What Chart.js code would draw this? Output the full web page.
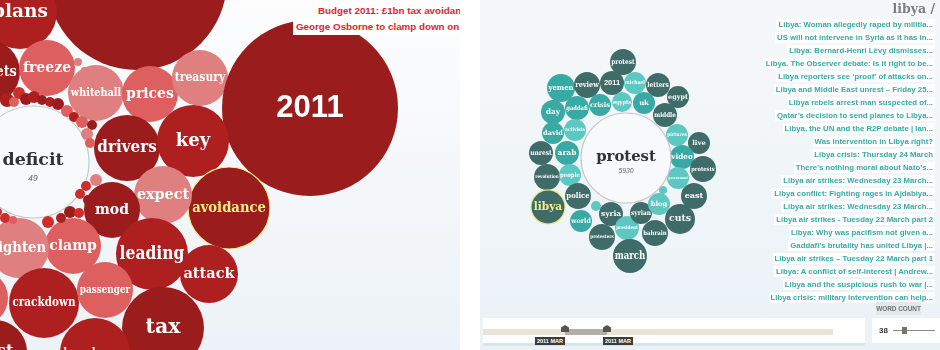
<!DOCTYPE html>
<html>
<head>
<meta charset="utf-8">
<script src="https://cdn.jsdelivr.net/npm/chart.js@4/dist/chart.umd.min.js"></script>
<style>
  body { margin: 0; width: 940px; height: 350px; position: relative; overflow: hidden; background: #fff; font-family: "Liberation Sans", Arial, sans-serif; }
  .panel { position: absolute; top: 0; height: 350px; overflow: hidden; }
  #left { left: 0; width: 460px; background: linear-gradient(#fdfdfe, #ecf2f7); }
  #right { left: 480px; width: 460px; background: linear-gradient(#f5f8fa, #ebf2f7); }
  canvas { position: absolute; left: 0; top: 0; }
  .head { position: absolute; white-space: nowrap; background: #fff; color: #e1262b; font-weight: bold; font-size: 9.8px; padding: 2px 3px; line-height: 12px; }
  #titles { position: absolute; right: 5px; top: 15px; text-align: right; }
  #titles div { height: 13px; line-height: 13px; }
  #titles span { background: #fff; color: #38aaa5; font-weight: bold; font-size: 7.8px; padding: 1px 2px; white-space: nowrap; }
  #topic { position: absolute; right: 5px; top: 1px; font-family: "DejaVu Serif", serif; font-weight: bold; font-size: 12.5px; color: #7c7f82; }
  #wclabel { position: absolute; left: 396px; top: 302px; width: 45px; height: 13px; background: #e3e8eb; color: #6e7378; font-size: 6.4px; font-weight: bold; text-align: center; line-height: 13px; white-space: nowrap; }
  #wcbox { position: absolute; left: 392px; top: 318px; width: 68px; height: 25px; background: #fff; }
  #timeline { position: absolute; left: 3px; top: 318px; width: 382px; height: 25px; background: #fff; border-bottom: 3px solid #d6e6ef; }
  .tag { position: absolute; top: 19px; background: #3c3c37; color: #fff; font-size: 5.5px; font-weight: bold; padding: 1px 2px; line-height: 6px; }
  .knob { position: absolute; top: 7px; width: 8px; height: 7px; background: #55554f; clip-path: polygon(50% 0, 100% 35%, 100% 100%, 0 100%, 0 35%); }
</style>
</head>
<body>
<div class="panel" id="left">
  <canvas id="leftChart" width="460" height="350"></canvas>
  <div class="head" style="left:315px; top:3px;">Budget 2011: £1bn tax avoidance measures</div>
  <div class="head" style="left:293px; top:19px;">George Osborne to clamp down on tax avoidance</div>
</div>
<div class="panel" id="right">
  <canvas id="rightChart" width="460" height="350"></canvas>
  <div id="topic">libya /</div>
  <div id="titles"></div>
  <div id="wclabel">WORD COUNT</div>
  <div id="wcbox">
    <span style="position:absolute; left:7px; top:8px; font-size:8px; font-weight:bold; color:#333;">38</span>
    <div style="position:absolute; left:21px; top:12px; width:42px; height:1px; background:#8a8a8a;"></div>
    <div style="position:absolute; left:30px; top:9px; width:5px; height:7px; background:#77736c;"></div>
  </div>
  <div id="timeline">
    <div style="position:absolute; left:0; top:11px; width:350px; height:6px; background:#e8e4d8;"></div>
    <div style="position:absolute; left:82px; top:11px; width:42px; height:6px; background:#b3afa8;"></div>
    <div class="knob" style="left:78px;"></div>
    <div class="knob" style="left:120px;"></div>
    <div class="tag" style="left:52px;">2011 MAR</div>
    <div class="tag" style="left:120px;">2011 MAR</div>
  </div>
</div>
<script>
// left cluster: budget words
const leftWords = ['budget', 'plans', 'budgets', 'freeze', 'whitehall', 'prices', 'treasury', '2011', 'deficit',
  'drivers', 'key', 'avoidance', 'expect', 'mod', 'leading', 'attack', 'tax', 'clamp', 'tighten', 'crackdown',
  'passenger', 'rates', 'cost', 'homebuyers',
  '', '', '', '', '', '', '', '', '', '', '', '', '', '', '', '', '', '', '', '', '', '', '', '', '', '', ''];
const leftX = [137, 20, -12, 47, 96, 150, 200, 310, 33, 127, 193, 229, 163, 112, 152, 209, 163, 73, 19, 44, 105, -20, -5, 95,
  7, 14, 19, 26, 34, 42, 50, 58, 67, 74, 82, 92, 87, 90, 78, 84, 96, 86, 80, 70, 79, 48, 61, 5, 13, -2, 88];
const leftY = [-20, 12, 72, 68, 93, 94, 78, 108, 162, 148, 141, 208, 195, 210, 254, 274, 328, 246, 248, 303, 290, 298, 352, 353,
  100, 102, 93, 99, 97, 100, 102, 104, 111, 117, 122, 125, 134, 143, 62, 70, 180, 186, 194, 212, 213, 222, 218, 218, 220, 212, 200];
const leftR = [90, 37, 32, 28, 28, 28, 28, 88, 56, 33, 36, 41, 29, 28, 36, 29, 41, 28, 30, 35, 28, 28, 32, 35,
  7, 5, 6, 6, 6, 5, 5, 6, 6, 5, 6, 5, 6, 5, 4, 3, 6, 5, 5, 6, 5, 6, 5, 5, 4, 4, 5];
const leftTone = ['dark', 'red', 'dark', 'light', 'pale', 'light', 'pale', 'dark', 'focus', 'dark', 'red', 'pick', 'pale',
  'dark', 'red', 'red', 'dark', 'light', 'pale', 'red', 'light', 'light', 'dark', 'red',
  'red', 'light', 'bright', 'dark', 'red', 'dark', 'red', 'dark', 'light', 'red', 'light', 'dark', 'pale', 'light',
  'pale', 'pale', 'pale', 'bright', 'bright', 'dark', 'bright', 'bright', 'red', 'bright', 'light', 'bright', 'dark'];
const leftCount = '49';

// right cluster: protest words
const rightWords = ['protest', 'yemen', 'review', '2011', 'michael', 'letters', 'egypt', 'middle', 'uk', 'egypts', 'crisis',
  'gaddafi', 'day', 'activists', 'david', 'unrest', 'arab', 'revolution', 'people', 'pictures', 'live', 'video', 'protests',
  'government', 'libya', 'police', '', 'world', 'syria', 'protesters', 'president', 'syrian', 'march', 'bahrain', 'blog', '',
  'cuts', 'east', 'protest'];
const rightX = [623, 561, 587, 612, 635, 658, 678, 665, 644, 622, 600, 577, 553, 575, 553, 541, 567, 547, 570, 677, 699, 682, 703,
  678, 548, 578, 596, 581, 611, 602, 627, 641, 630, 655, 659, 663, 680, 694, 626];
const rightY = [62, 88, 85, 83, 83, 85, 97, 115, 103, 102, 105, 108, 112, 130, 133, 153, 153, 177, 175, 135, 143, 157, 169,
  178, 207, 196, 206, 221, 214, 237, 228, 213, 256, 233, 204, 190, 219, 196, 158];
const rightR = [13, 14, 13, 12, 11, 12, 11, 12, 11, 10, 11, 12, 12, 11, 11, 12, 12, 13, 11, 11, 11, 12, 13,
  11, 17, 13, 5, 11, 12, 13, 12, 11, 17, 13, 11, 4, 15, 13, 45];
const rightTone = ['tdark', 'teal', 'tdark', 'tdark', 'tlight', 'tdark', 'tdark', 'tdark', 'teal', 'tlight', 'teal',
  'teal', 'teal', 'tlight', 'teal', 'tdark', 'teal', 'tdark', 'tlight', 'tlight', 'tdark', 'teal', 'tdark',
  'tlight', 'pick2', 'tdark', 'tlight', 'teal', 'tdark', 'tdark', 'tlight', 'tdark', 'tdark', 'tdark', 'tlight', 'tlight',
  'tdark', 'tdark', 'focus'];
const rightCount = '5930';

const titles = [
  'Libya: Woman allegedly raped by militia...',
  'US will not intervene in Syria as it has in...',
  'Libya: Bernard-Henri Lévy dismisses...',
  'Libya. The Observer debate: Is it right to be...',
  'Libya reporters see ‘proof’ of attacks on...',
  'Libya and Middle East unrest – Friday 25...',
  'Libya rebels arrest man suspected of...',
  'Qatar’s decision to send planes to Libya...',
  'Libya, the UN and the R2P debate | Ian...',
  'Was intervention in Libya right?',
  'Libya crisis: Thursday 24 March',
  'There’s nothing moral about Nato’s...',
  'Libya air strikes: Wednesday 23 March...',
  'Libya conflict: Fighting rages in Ajdabiya...',
  'Libya air strikes: Wednesday 23 March...',
  'Libya air strikes - Tuesday 22 March part 2',
  'Libya: Why was pacifism not given a...',
  'Gaddafi’s brutality has united Libya |...',
  'Libya air strikes – Tuesday 22 March part 1',
  'Libya: A conflict of self-interest | Andrew...',
  'Libya and the suspicious rush to war |...',
  'Libya crisis: military intervention can help...'
];

const fills = {
  dark: '#9a1c1c', red: '#ae1f1f', bright: '#cf2c2c', light: '#de5f5f', pale: '#e07f7f', pick: '#9a1c1c',
  tdark: '#3f6c69', teal: '#38a9a3', tlight: '#5dc7c2', pick2: '#3f6c69', focus: '#f8f9fa'
};
const edges = { pick: '#f3ec8a', pick2: '#e9e47c', focus: '#c6c9cc' };

const titleBox = document.getElementById('titles');
titles.forEach(t => {
  const row = document.createElement('div');
  const s = document.createElement('span');
  s.textContent = t;
  row.appendChild(s);
  titleBox.appendChild(row);
});

const wordLabels = {
  id: 'wordLabels',
  afterDatasetsDraw(chart, args, opts) {
    const ctx = chart.ctx;
    const meta = chart.getDatasetMeta(0);
    const tones = opts.tones;
    meta.data.forEach((el, i) => {
      const word = chart.data.labels[i];
      const r = el.options.radius;
      if (!word || r < 8) return;
      const tone = tones[i];
      const serif = isNaN(Number(word));
      ctx.save();
      if (tone === 'focus') {
        let s = r * opts.focusScale;
        ctx.font = 'bold ' + s + 'px "DejaVu Serif"';
        ctx.fillStyle = '#333';
        ctx.textAlign = 'center';
        ctx.textBaseline = 'middle';
        ctx.fillText(word, el.x, el.y - r * 0.03);
        ctx.font = 'italic ' + (r * 0.15) + 'px "Liberation Sans"';
        ctx.fillStyle = '#666';
        ctx.fillText(opts.count, el.x, el.y + r * 0.3);
        ctx.restore();
        return;
      }
      let size = Math.min(r * opts.scale, opts.cap);
      const family = serif ? '"DejaVu Serif"' : '"Liberation Sans"';
      ctx.font = 'bold ' + size + 'px ' + family;
      let w = ctx.measureText(word).width;
      const maxW = r * 1.8;
      let sx = 1;
      if (w > maxW) {
        sx = Math.max(0.85, maxW / w);
        if (w * sx > maxW) {
          size = size * maxW / (w * sx);
          ctx.font = 'bold ' + size + 'px ' + family;
        }
      }
      ctx.translate(el.x, el.y);
      ctx.scale(sx, 1);
      ctx.fillStyle = (tone === 'pick' || tone === 'pick2') ? '#f6ef86' : '#fff';
      ctx.textAlign = 'center';
      ctx.textBaseline = 'middle';
      ctx.fillText(word, 0, 0);
      ctx.restore();
    });
  }
};

function bubbleChart(id, words, xs, ys, rs, tones, xmin, count, scale, focusScale) {
  const points = words.map((w, i) => ({ x: xs[i], y: ys[i], r: rs[i] }));
  return new Chart(document.getElementById(id).getContext('2d'), {
    type: 'bubble',
    data: {
      labels: words,
      datasets: [{
        data: points,
        backgroundColor: c => fills[tones[c.dataIndex]],
        borderColor: c => edges[tones[c.dataIndex]] || fills[tones[c.dataIndex]],
        borderWidth: c => (edges[tones[c.dataIndex]] ? 1.2 : 0),
        hoverRadius: 0,
        clip: false
      }]
    },
    options: {
      responsive: false,
      animation: false,
      layout: { padding: 0, autoPadding: false },
      scales: {
        x: { type: 'linear', min: xmin, max: xmin + 460, display: false },
        y: { type: 'linear', min: 0, max: 350, reverse: true, display: false }
      },
      plugins: {
        legend: { display: false },
        tooltip: { enabled: false },
        wordLabels: { tones: tones, count: count, scale: scale, cap: 31, focusScale: focusScale }
      }
    },
    plugins: [wordLabels]
  });
}

bubbleChart('leftChart', leftWords, leftX, leftY, leftR, leftTone, 0, leftCount, 0.5, 0.31);
bubbleChart('rightChart', rightWords, rightX, rightY, rightR, rightTone, 480, rightCount, 0.62, 0.33);
</script>
</body>
</html>
